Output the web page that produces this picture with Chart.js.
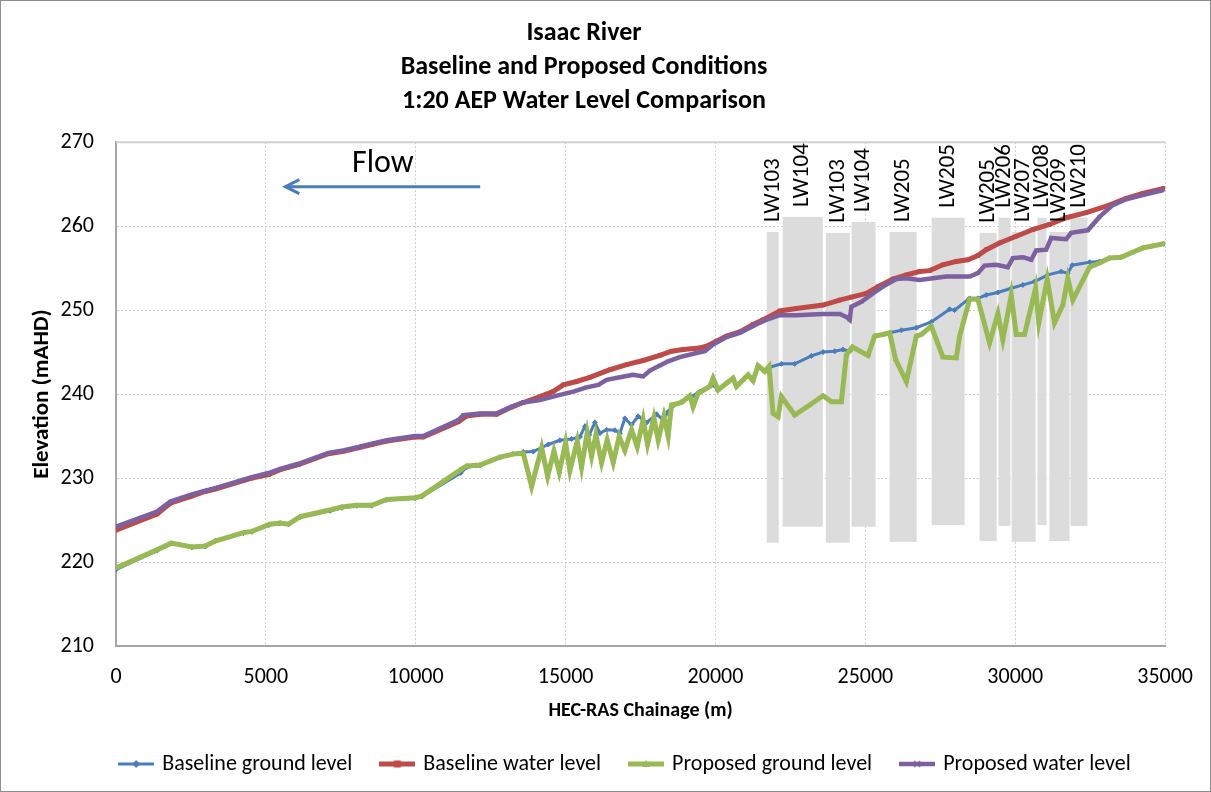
<!DOCTYPE html>
<html>
<head>
<meta charset="utf-8">
<script src="https://cdn.jsdelivr.net/npm/chart.js@4.4.0/dist/chart.umd.min.js"></script>
<style>
html, body { margin: 0; padding: 0; background: #fff; }
</style>
</head>
<body>
<canvas id="chart" width="1211" height="792"></canvas>
<script>
// Chainage (m) / elevation (mAHD) per series
const baseGroundCh = [0, 1367, 1850, 2533, 2977, 3310, 4253, 4533, 5100, 5450, 5753, 6143, 7150, 7533, 8033, 8533, 9033, 9977, 10200, 11500, 11700, 12143, 12810, 13253, 13587, 13920, 14420, 14810, 15200, 15477, 15643, 15787, 15977, 16143, 16367, 16643, 16810, 16977, 17200, 17420, 17700, 18033, 18253, 18420, 18587, 18867, 19200, 19477, 19920, 20087, 20367, 20587, 20700, 20920, 21087, 21253, 21420, 21643, 21810, 22200, 22643, 23200, 23587, 23977, 24253, 24477, 24567, 25087, 25310, 25587, 25810, 26200, 26700, 27200, 27810, 27977, 28477, 28753, 29033, 29420, 29867, 30253, 30643, 31087, 31533, 31753, 31900, 32477, 32810, 33143, 33533, 34253, 34950];
const baseGroundEl = [219.1, 221.35, 222.2, 221.75, 221.85, 222.5, 223.45, 223.6, 224.4, 224.6, 224.5, 225.35, 226.1, 226.45, 226.7, 226.7, 227.4, 227.6, 227.8, 230.6, 231.3, 231.5, 232.45, 232.9, 233.1, 233.15, 234.0, 234.5, 234.65, 234.9, 236.15, 235.15, 236.6, 235.35, 235.75, 235.7, 235.35, 237.1, 236.35, 237.35, 236.6, 237.6, 236.95, 237.9, 238.6, 239.1, 239.7, 240.3, 241.1, 240.5, 241.3, 241.9, 241.0, 241.7, 242.2, 241.8, 243.3, 242.8, 243.2, 243.6, 243.6, 244.55, 245.0, 245.1, 245.3, 245.1, 245.6, 244.6, 246.9, 247.1, 247.3, 247.6, 247.9, 248.6, 250.1, 250.0, 251.4, 251.4, 251.8, 252.1, 252.6, 253.0, 253.4, 254.2, 254.6, 254.4, 255.35, 255.7, 255.8, 256.2, 256.3, 257.4, 257.9];

const baseWaterCh = [0, 1367, 1810, 2477, 2977, 3310, 4253, 4533, 5087, 5477, 6087, 7087, 7587, 8087, 8533, 9033, 9977, 10253, 11420, 11700, 12143, 12700, 13200, 13587, 13920, 14367, 14587, 14920, 15367, 15810, 16477, 17033, 17587, 18143, 18533, 18920, 19477, 19700, 20033, 20367, 20810, 21253, 21587, 21920, 22143, 22700, 23587, 24143, 24533, 25033, 25420, 25920, 26367, 26810, 27143, 27587, 28033, 28420, 28753, 29033, 29477, 30033, 30587, 31143, 31700, 32367, 33143, 33700, 34253, 34950];
const baseWaterEl = [223.8, 225.7, 227.0, 227.8, 228.4, 228.7, 229.7, 230.0, 230.4, 231.0, 231.6, 232.9, 233.2, 233.6, 234.0, 234.4, 234.9, 234.9, 236.7, 237.4, 237.6, 237.6, 238.45, 239.0, 239.4, 240.0, 240.3, 241.1, 241.5, 242.0, 242.9, 243.5, 244.0, 244.6, 245.1, 245.3, 245.5, 245.7, 246.3, 246.9, 247.4, 248.3, 248.85, 249.45, 249.9, 250.2, 250.6, 251.2, 251.55, 252.0, 252.8, 253.7, 254.2, 254.6, 254.7, 255.4, 255.8, 256.0, 256.5, 257.2, 258.0, 258.8, 259.6, 260.2, 261.0, 261.6, 262.5, 263.3, 263.9, 264.5];

const propGroundCh = [0, 1367, 1843, 2533, 2977, 3310, 4253, 4533, 5143, 5477, 5753, 6143, 7200, 7533, 8033, 8533, 9033, 9977, 10200, 11477, 11700, 12143, 12810, 13253, 13587, 13867, 14200, 14400, 14610, 14787, 15000, 15143, 15387, 15533, 15720, 15867, 16010, 16200, 16387, 16587, 16787, 16977, 17200, 17387, 17587, 17733, 17943, 18087, 18277, 18420, 18530, 18867, 19143, 19253, 19420, 19810, 19920, 20087, 20367, 20587, 20700, 20920, 21087, 21253, 21420, 21643, 21787, 21920, 22087, 22200, 22643, 23143, 23587, 23867, 24200, 24277, 24367, 24567, 25087, 25310, 25587, 25810, 26010, 26367, 26700, 26867, 27200, 27587, 28033, 28143, 28477, 28753, 29143, 29420, 29587, 29867, 30033, 30310, 30677, 30787, 31067, 31310, 31587, 31753, 31920, 32477, 32810, 33143, 33533, 34253, 34950];
const propGroundEl = [219.3, 221.45, 222.25, 221.8, 221.9, 222.5, 223.5, 223.65, 224.5, 224.65, 224.5, 225.4, 226.25, 226.55, 226.75, 226.75, 227.45, 227.65, 227.85, 230.95, 231.45, 231.55, 232.5, 232.85, 232.95, 229.0, 233.6, 230.2, 233.2, 230.7, 234.2, 230.9, 234.4, 231.3, 235.4, 232.6, 235.15, 231.85, 234.55, 231.85, 234.95, 233.3, 235.75, 233.75, 236.95, 234.0, 237.15, 234.55, 237.35, 235.0, 238.7, 239.0, 239.8, 238.5, 240.1, 240.9, 241.9, 240.5, 241.3, 241.9, 240.9, 241.7, 242.3, 241.6, 243.4, 242.7, 243.3, 237.7, 237.3, 239.7, 237.5, 238.7, 239.8, 239.1, 239.1, 241.7, 244.7, 245.6, 244.6, 246.9, 247.1, 247.3, 244.1, 241.5, 246.9, 247.1, 248.1, 244.4, 244.3, 246.9, 251.3, 251.3, 246.1, 249.6, 246.5, 251.8, 247.1, 247.1, 252.6, 248.5, 253.7, 248.5, 250.6, 253.8, 251.2, 255.1, 255.6, 256.2, 256.3, 257.4, 257.9];

const propWaterCh = [0, 1367, 1810, 2477, 2977, 3310, 4253, 4533, 5087, 5477, 6087, 7087, 7587, 8087, 8533, 9033, 9977, 10253, 11420, 11587, 12143, 12700, 13200, 13587, 14143, 14810, 15253, 15700, 16087, 16367, 16810, 17253, 17587, 17810, 18143, 18420, 18810, 19367, 19643, 19920, 20367, 20810, 21477, 21810, 22143, 22700, 23587, 24143, 24367, 24477, 24533, 24867, 25253, 25587, 26033, 26367, 26810, 27253, 27700, 28033, 28477, 28753, 28977, 29367, 29753, 29920, 30253, 30533, 30700, 31033, 31200, 31700, 31867, 32420, 32810, 33253, 33700, 34253, 34950];
const propWaterEl = [224.2, 226.0, 227.2, 228.0, 228.5, 228.8, 229.8, 230.1, 230.6, 231.1, 231.7, 233.0, 233.3, 233.7, 234.1, 234.5, 235.0, 235.0, 236.9, 237.5, 237.7, 237.7, 238.5, 239.0, 239.3, 239.9, 240.3, 240.8, 241.1, 241.7, 242.0, 242.3, 242.1, 242.8, 243.4, 243.9, 244.4, 244.9, 245.1, 245.9, 246.8, 247.3, 248.5, 249.0, 249.4, 249.4, 249.55, 249.55, 249.2, 248.85, 250.4, 251.0, 252.0, 252.8, 253.7, 253.8, 253.6, 253.8, 254.0, 254.0, 254.0, 254.4, 255.3, 255.4, 255.1, 256.2, 256.3, 256.0, 257.1, 257.2, 258.6, 258.45, 259.2, 259.5, 261.1, 262.5, 263.2, 263.7, 264.3];

// Longwall panels (grey columns)
const panelLabels = ['LW103', 'LW104', 'LW103', 'LW104', 'LW205', 'LW205', 'LW205', 'LW206', 'LW207', 'LW208', 'LW209', 'LW210'];
const panelStart = [21710, 22240, 23680, 24540, 25810, 27210, 28810, 29440, 29880, 30740, 31140, 31840];
const panelEnd = [22110, 23580, 24480, 25340, 26710, 28310, 29380, 29840, 30680, 31040, 31810, 32410];
const panelBottom = [222.3, 224.2, 222.3, 224.2, 222.4, 224.4, 222.5, 224.3, 222.4, 224.4, 222.5, 224.3];
const panelTop = [259.3, 261.1, 259.2, 260.5, 259.3, 261.0, 259.2, 261.0, 259.3, 261.0, 259.3, 261.0];

const xTicks = { min: 0, max: 35000, step: 5000 };
const yTicks = { min: 210, max: 270, step: 10 };

// Flow arrow annotation (chainage, elevation)
const flowLabel = { x: 8900, y: 267.4, text: 'Flow' };
const flowArrow = { from: 12150, to: 5650, y: 264.7 };

const FONT = 'Carlito, Calibri, Lato, sans-serif';
const colors = ['#4A7EBB', '#BE4B48', '#98B954', '#7D60A0'];

function pts(xs, ys) {
    return xs.map((x, i) => ({ x: x, y: ys[i] }));
}

// small line+marker picture for the legend
function swatch(color, lw, marker) {
    const c = document.createElement('canvas');
    c.width = 36;
    c.height = 12;
    const g = c.getContext('2d');
    g.strokeStyle = color;
    g.fillStyle = color;
    g.lineWidth = lw;
    g.beginPath();
    g.moveTo(0, 6);
    g.lineTo(36, 6);
    g.stroke();
    g.lineWidth = 1.5;
    g.beginPath();
    if (marker === 'diamond') {
        g.moveTo(18, 2); g.lineTo(22, 6); g.lineTo(18, 10); g.lineTo(14, 6); g.closePath(); g.fill();
    } else if (marker === 'square') {
        g.fillRect(14.5, 2.5, 7, 7);
    } else if (marker === 'triangle') {
        g.moveTo(18, 2); g.lineTo(22, 9); g.lineTo(14, 9); g.closePath(); g.fill();
    } else {
        g.moveTo(15, 3); g.lineTo(21, 9); g.moveTo(21, 3); g.lineTo(15, 9); g.stroke();
    }
    return c;
}

const swatches = [
    swatch(colors[0], 3, 'diamond'),
    swatch(colors[1], 5, 'square'),
    swatch(colors[2], 5, 'triangle'),
    swatch(colors[3], 4.5, 'cross')
];

const overlay = {
    id: 'overlay',
    afterLayout(chart) {
        // centre the legend row under the whole picture rather than the padded box
        chart.legend.left += 84;
    },
    beforeDatasetsDraw(chart) {
        const { ctx, chartArea, scales: { x, y } } = chart;
        ctx.save();
        ctx.beginPath();
        ctx.rect(chartArea.left, chartArea.top, chartArea.right - chartArea.left, chartArea.bottom - chartArea.top);
        ctx.clip();
        ctx.fillStyle = '#dcdcdc';
        panelStart.forEach((s, i) => {
            const x0 = x.getPixelForValue(s);
            const x1 = x.getPixelForValue(panelEnd[i]);
            const y0 = y.getPixelForValue(panelTop[i]);
            const y1 = y.getPixelForValue(panelBottom[i]);
            ctx.fillRect(x0, y0, x1 - x0, y1 - y0);
        });
        ctx.restore();
    },
    afterDatasetsDraw(chart) {
        const { ctx, scales: { x, y } } = chart;
        ctx.save();
        // panel names, rotated
        ctx.fillStyle = '#000';
        ctx.font = '23px ' + FONT;
        ctx.textAlign = 'left';
        ctx.textBaseline = 'middle';
        panelLabels.forEach((lab, i) => {
            const cx = x.getPixelForValue((panelStart[i] + panelEnd[i]) / 2);
            const top = y.getPixelForValue(panelTop[i]);
            ctx.save();
            ctx.translate(cx, top - 10);
            ctx.rotate(-Math.PI / 2);
            ctx.fillText(lab, 0, 0);
            ctx.restore();
        });
        // flow direction
        ctx.font = '32px ' + FONT;
        ctx.textAlign = 'center';
        ctx.fillText(flowLabel.text, x.getPixelForValue(flowLabel.x), y.getPixelForValue(flowLabel.y));
        const ax0 = x.getPixelForValue(flowArrow.from);
        const ax1 = x.getPixelForValue(flowArrow.to);
        const ay = y.getPixelForValue(flowArrow.y);
        ctx.strokeStyle = colors[0];
        ctx.lineWidth = 3;
        ctx.beginPath();
        ctx.moveTo(ax0, ay);
        ctx.lineTo(ax1 + 2, ay);
        ctx.stroke();
        ctx.beginPath();
        ctx.moveTo(ax1 + 14, ay - 7);
        ctx.lineTo(ax1, ay);
        ctx.lineTo(ax1 + 14, ay + 7);
        ctx.stroke();
        ctx.restore();
    },
    afterDraw(chart) {
        const { ctx, chartArea } = chart;
        ctx.save();
        ctx.strokeStyle = '#d0d0d0';
        ctx.lineWidth = 2;
        ctx.beginPath();
        ctx.moveTo(chartArea.left, chartArea.top);
        ctx.lineTo(chartArea.right, chartArea.top);
        ctx.stroke();
        ctx.strokeStyle = '#8c8c8c';
        ctx.lineWidth = 1;
        ctx.strokeRect(0.5, 0.5, chart.width - 1, chart.height - 1);
        ctx.restore();
    }
};

function series(label, xs, ys, idx, width, style, order) {
    return {
        label: label,
        data: pts(xs, ys),
        showLine: true,
        borderColor: colors[idx],
        backgroundColor: colors[idx],
        borderWidth: width,
        pointStyle: style,
        pointRadius: 2.5,
        pointBorderWidth: 1,
        pointHoverRadius: 3,
        tension: 0,
        order: order
    };
}

new Chart(document.getElementById('chart'), {
    type: 'scatter',
    data: {
        datasets: [
            series('Baseline ground level', baseGroundCh, baseGroundEl, 0, 3, 'rectRot', 4),
            series('Baseline water level', baseWaterCh, baseWaterEl, 1, 5, 'rect', 3),
            series('Proposed ground level', propGroundCh, propGroundEl, 2, 5, 'triangle', 2),
            series('Proposed water level', propWaterCh, propWaterEl, 3, 4.5, 'crossRot', 1)
        ]
    },
    options: {
        responsive: false,
        animation: false,
        events: [],
        layout: { padding: { left: 0, right: 43, top: 0, bottom: 7 } },
        scales: {
            x: {
                type: 'linear',
                min: xTicks.min,
                max: xTicks.max,
                ticks: {
                    stepSize: xTicks.step,
                    autoSkip: false,
                    maxRotation: 0,
                    color: '#000',
                    padding: 18,
                    font: { family: FONT, size: 22 },
                    callback: v => String(v)
                },
                grid: { color: '#cfcfcf', lineWidth: 1, drawTicks: false },
                border: { color: '#a6a6a6', width: 2, dash: [2, 2] },
                title: {
                    display: true,
                    text: 'HEC-RAS Chainage (m)',
                    color: '#000',
                    font: { family: FONT, size: 20, weight: 'bold' },
                    padding: { top: 4, bottom: 0 }
                },
                afterFit: s => { s.height = 77; }
            },
            y: {
                type: 'linear',
                min: yTicks.min,
                max: yTicks.max,
                ticks: {
                    stepSize: yTicks.step,
                    color: '#000',
                    padding: 22,
                    font: { family: FONT, size: 22 }
                },
                grid: { color: '#cfcfcf', lineWidth: 1, drawTicks: false },
                border: { color: '#a6a6a6', width: 2, dash: [2, 2] },
                title: {
                    display: true,
                    text: 'Elevation (mAHD)',
                    color: '#000',
                    font: { family: FONT, size: 23, weight: 'bold' },
                    padding: { top: 28, bottom: 0 }
                },
                afterFit: s => { s.width = 116; }
            }
        },
        plugins: {
            title: {
                display: true,
                text: ['Isaac River', 'Baseline and Proposed Conditions', '1:20 AEP Water Level Comparison'],
                color: '#000',
                font: { family: FONT, size: 26, weight: 'bold', lineHeight: 1.31 },
                padding: { top: 16, bottom: 24 }
            },
            legend: {
                position: 'bottom',
                labels: {
                    color: '#000',
                    font: { family: FONT, size: 22 },
                    usePointStyle: true,
                    pointStyleWidth: 30,
                    padding: 30,
                    generateLabels: chart => chart.data.datasets.map((ds, i) => ({
                        text: ds.label,
                        pointStyle: swatches[i],
                        fillStyle: colors[i],
                        strokeStyle: colors[i],
                        lineWidth: 0,
                        hidden: false,
                        datasetIndex: i,
                        fontColor: '#000'
                    }))
                }
            },
            tooltip: { enabled: false }
        }
    },
    plugins: [overlay]
});
</script>
</body>
</html>
